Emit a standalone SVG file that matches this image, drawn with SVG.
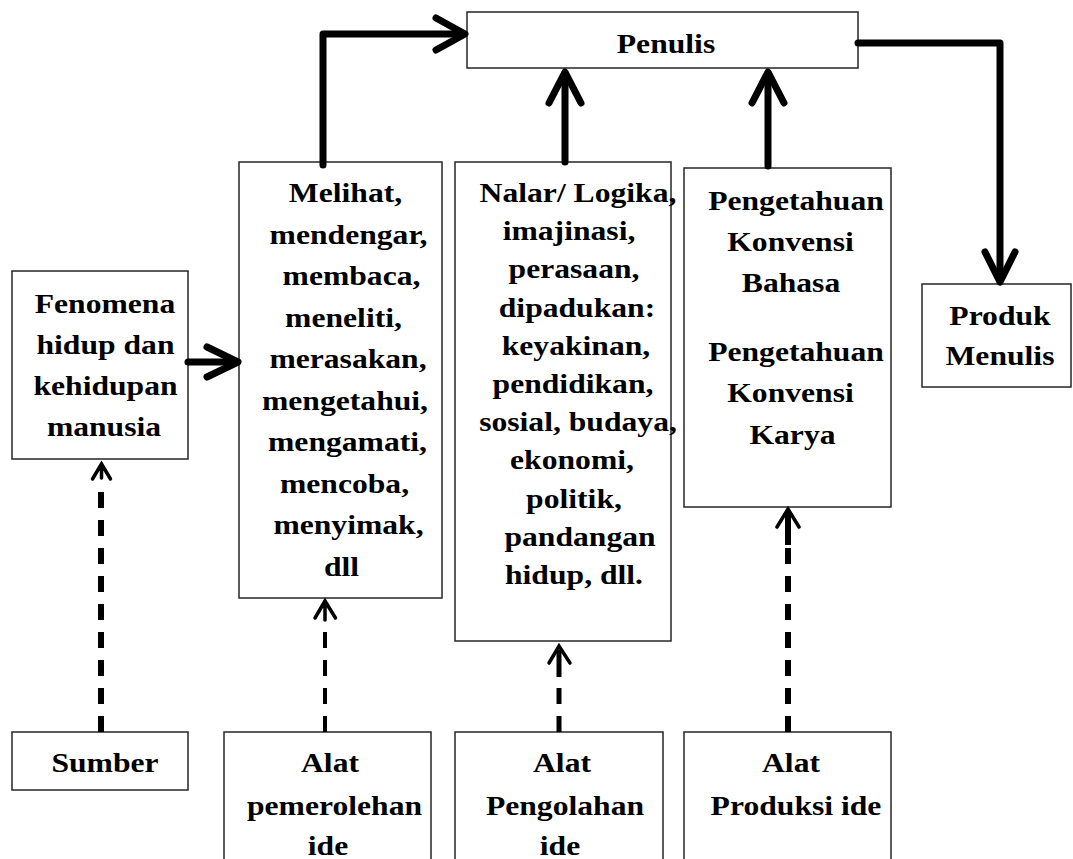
<svg xmlns="http://www.w3.org/2000/svg" width="1073" height="859" viewBox="0 0 1073 859">
<style>
.box{fill:#fff;stroke:#262626;stroke-width:1.5}
.t{font-family:"Liberation Serif","Times New Roman",serif;font-weight:bold;font-size:28px;fill:#000;text-anchor:middle}
.thick{fill:none;stroke:#000;stroke-width:7;stroke-linecap:round;stroke-linejoin:round}
.head{fill:none;stroke:#000;stroke-width:7;stroke-linecap:round;stroke-linejoin:round}
.dash{fill:none;stroke:#000;stroke-dasharray:16 12}
.shead{fill:none;stroke:#000;stroke-width:3.5;stroke-linecap:round;stroke-linejoin:miter}
</style>
<rect width="1073" height="859" fill="#fff"/>

<g id="penulis">
<rect class="box" x="467" y="12" width="391" height="56"/>
<text class="t" transform="matrix(1.13 0 0 1 666 53)">Penulis</text>
</g>

<g id="melihat">
<rect class="box" x="239" y="162" width="203" height="436"/>
<text class="t" transform="matrix(1.13 0 0 1 345.5 202)">Melihat,</text>
<text class="t" transform="matrix(1.13 0 0 1 348.5 243.5)">mendengar,</text>
<text class="t" transform="matrix(1.13 0 0 1 351.5 285)">membaca,</text>
<text class="t" transform="matrix(1.13 0 0 1 343.5 326.5)">meneliti,</text>
<text class="t" transform="matrix(1.13 0 0 1 348 368)">merasakan,</text>
<text class="t" transform="matrix(1.13 0 0 1 345 409.5)">mengetahui,</text>
<text class="t" transform="matrix(1.13 0 0 1 347.5 451)">mengamati,</text>
<text class="t" transform="matrix(1.13 0 0 1 344.5 492.5)">mencoba,</text>
<text class="t" transform="matrix(1.13 0 0 1 348.5 534)">menyimak,</text>
<text class="t" transform="matrix(1.13 0 0 1 341.5 575.5)">dll</text>
</g>

<g id="nalar">
<rect class="box" x="455" y="162" width="216" height="479"/>
<text class="t" transform="matrix(1.13 0 0 1 578 202)">Nalar/ Logika,</text>
<text class="t" transform="matrix(1.13 0 0 1 569 240.2)">imajinasi,</text>
<text class="t" transform="matrix(1.13 0 0 1 574 278.4)">perasaan,</text>
<text class="t" transform="matrix(1.13 0 0 1 577 316.6)">dipadukan:</text>
<text class="t" transform="matrix(1.13 0 0 1 576 354.8)">keyakinan,</text>
<text class="t" transform="matrix(1.13 0 0 1 573 393)">pendidikan,</text>
<text class="t" transform="matrix(1.13 0 0 1 578 431.2)">sosial, budaya,</text>
<text class="t" transform="matrix(1.13 0 0 1 572 469.4)">ekonomi,</text>
<text class="t" transform="matrix(1.13 0 0 1 574 507.6)">politik,</text>
<text class="t" transform="matrix(1.13 0 0 1 580 545.8)">pandangan</text>
<text class="t" transform="matrix(1.13 0 0 1 574 584)">hidup, dll.</text>
</g>

<g id="pengetahuan">
<rect class="box" x="684" y="168" width="207" height="339"/>
<text class="t" transform="matrix(1.13 0 0 1 796 210)">Pengetahuan</text>
<text class="t" transform="matrix(1.13 0 0 1 790.5 251)">Konvensi</text>
<text class="t" transform="matrix(1.13 0 0 1 791 292)">Bahasa</text>
<text class="t" transform="matrix(1.13 0 0 1 796 361)">Pengetahuan</text>
<text class="t" transform="matrix(1.13 0 0 1 790.5 402)">Konvensi</text>
<text class="t" transform="matrix(1.13 0 0 1 792.5 444)">Karya</text>
</g>

<g id="produk">
<rect class="box" x="922" y="284" width="149" height="103"/>
<text class="t" transform="matrix(1.13 0 0 1 1000 325)">Produk</text>
<text class="t" transform="matrix(1.13 0 0 1 1000 365)">Menulis</text>
</g>

<g id="fenomena">
<rect class="box" x="12" y="271" width="176" height="188"/>
<text class="t" transform="matrix(1.13 0 0 1 105 313)">Fenomena</text>
<text class="t" transform="matrix(1.13 0 0 1 105.5 354)">hidup dan</text>
<text class="t" transform="matrix(1.13 0 0 1 105.5 395)">kehidupan</text>
<text class="t" transform="matrix(1.13 0 0 1 104 436)">manusia</text>
</g>

<g id="sumber">
<rect class="box" x="12" y="732" width="176" height="58"/>
<text class="t" transform="matrix(1.13 0 0 1 105 772)">Sumber</text>
</g>

<g id="alat-pemerolehan">
<rect class="box" x="224" y="732" width="207" height="145"/>
<text class="t" transform="matrix(1.13 0 0 1 330 772)">Alat</text>
<text class="t" transform="matrix(1.13 0 0 1 334.5 815)">pemerolehan</text>
<text class="t" transform="matrix(1.13 0 0 1 328 855)">ide</text>
</g>

<g id="alat-pengolahan">
<rect class="box" x="455" y="732" width="208" height="145"/>
<text class="t" transform="matrix(1.13 0 0 1 562 772)">Alat</text>
<text class="t" transform="matrix(1.13 0 0 1 565 815)">Pengolahan</text>
<text class="t" transform="matrix(1.13 0 0 1 560 855)">ide</text>
</g>

<g id="alat-produksi">
<rect class="box" x="684" y="732" width="207" height="145"/>
<text class="t" transform="matrix(1.13 0 0 1 791 772)">Alat</text>
<text class="t" transform="matrix(1.13 0 0 1 796 815)">Produksi ide</text>
</g>

<g id="connectors">
<path class="thick" d="M323,165 V34 H461"/>
<path class="head" d="M436,18 L465,34 L436,50"/>
<path class="thick" d="M858,43 H1000 V278"/>
<path class="head" d="M985,252 L1000,282 L1015,252"/>
<path class="thick" d="M565,162 V76"/>
<path class="head" d="M549,103 L565,72 L581,103"/>
<path class="thick" d="M768,166 V76"/>
<path class="head" d="M752,103 L768,72 L784,103"/>
<path class="thick" d="M188,362 H234"/>
<path class="head" d="M207,347 L238,362 L207,377"/>

<path class="dash" stroke-width="6" d="M101,732 V482"/>
<path class="shead" d="M92.5,479 L101.5,464 L110.5,479 M101.5,466 V478"/>
<path class="dash" stroke-width="4" d="M325,732 V630"/>
<path class="shead" d="M315,618 L325,601 L335.5,618 M325,603 V620"/>
<path class="dash" stroke-width="5" d="M559,732 V684"/>
<path class="shead" d="M549,663 L559,646 L570,663"/>
<path fill="none" stroke="#000" stroke-width="5" d="M559,650 V677"/>
<path class="dash" stroke-width="6" d="M788,732 V548"/>
<path class="shead" d="M777,527 L788,509 L799,527"/>
<path fill="none" stroke="#000" stroke-width="6" d="M788,512 V545"/>
</g>
</svg>
